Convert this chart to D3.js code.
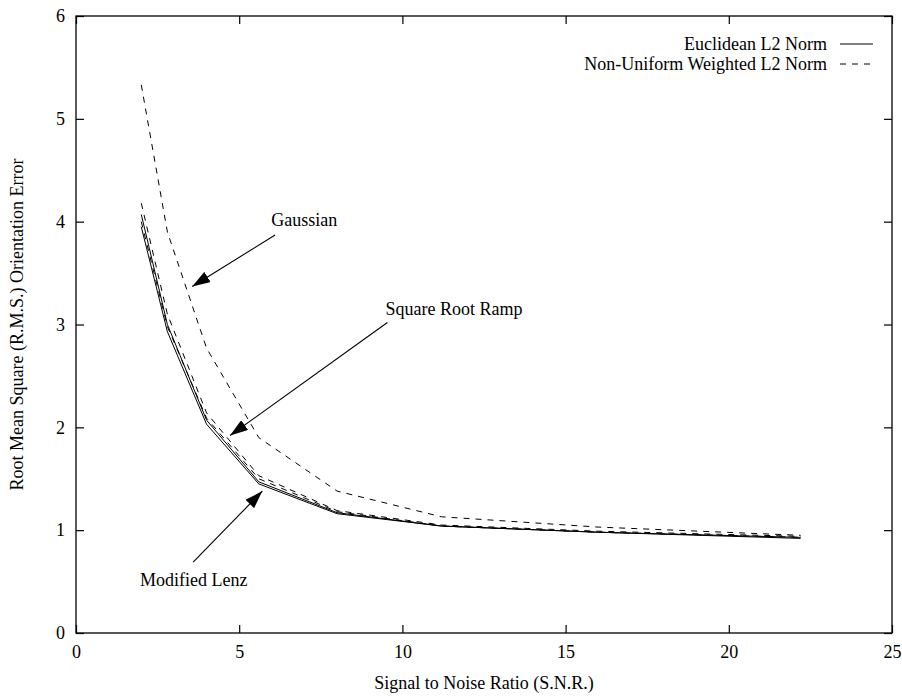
<!DOCTYPE html>
<html>
<head>
<meta charset="utf-8">
<script src="https://cdn.jsdelivr.net/npm/d3@7"></script>
<style>
  body { margin: 0; background: #fff; }
  text { font-family: "Liberation Serif", "Times New Roman", serif; font-size: 18px; fill: #000; }
</style>
</head>
<body>
<svg id="chart-svg"></svg>
<script>
const width = 902
const height = 696
const margin = {left: 76, right: 10, top: 16, bottom: 63}

// signal to noise ratios at which errors were measured
const snr = [2, 2.8, 4, 5.6, 8, 11.2, 16, 22.2]

// rms orientation error per filter / norm
const gaussianWeighted = [5.33, 3.9, 2.77, 1.9, 1.38, 1.13, 1.03, 0.95]
const rampWeighted     = [4.18, 3.1, 2.14, 1.53, 1.19, 1.05, 0.99, 0.94]
const rampEuclid       = [4.07, 3.0, 2.07, 1.47, 1.17, 1.04, 0.98, 0.93]
const lenzWeighted     = [4.0, 2.98, 2.09, 1.5, 1.18, 1.04, 0.98, 0.93]
const lenzEuclid       = [3.95, 2.93, 2.03, 1.45, 1.16, 1.04, 0.98, 0.92]

const series = [
  {name: 'Gaussian', norm: 'weighted', values: gaussianWeighted},
  {name: 'Square Root Ramp', norm: 'weighted', values: rampWeighted},
  {name: 'Modified Lenz', norm: 'weighted', values: lenzWeighted},
  {name: 'Square Root Ramp', norm: 'euclid', values: rampEuclid},
  {name: 'Modified Lenz', norm: 'euclid', values: lenzEuclid}
]

const xTicks = [0, 5, 10, 15, 20, 25]
const yTicks = [0, 1, 2, 3, 4, 5, 6]

const legendItems = [
  {label: 'Euclidean L2 Norm', norm: 'euclid'},
  {label: 'Non-Uniform Weighted L2 Norm', norm: 'weighted'}
]

// labels with arrow tail and arrow tip, in data units
const notes = [
  {label: 'Gaussian', tx: 5.98, ty: 3.96, x1: 6.1, y1: 3.87, x2: 3.56, y2: 3.37},
  {label: 'Square Root Ramp', tx: 9.48, ty: 3.09, x1: 9.54, y1: 3.02, x2: 4.72, y2: 1.92},
  {label: 'Modified Lenz', tx: 1.96, ty: 0.46, x1: 3.59, y1: 0.69, x2: 5.71, y2: 1.38}
]

const dash = '6,6'

const svg = d3.select('svg#chart-svg').attr('width', width).attr('height', height)
svg.append('rect').attr('width', width).attr('height', height).attr('fill', '#fff')

const x = d3.scaleLinear().domain([0, 25]).range([margin.left, width - margin.right])
const y = d3.scaleLinear().domain([0, 6]).range([height - margin.bottom, margin.top])

const x0 = x.range()[0], x1 = x.range()[1]
const y0 = y.range()[0], y1 = y.range()[1]

//tick marks point inward on all four sides
const tickLen = 8
const fmt = d3.format('d')
svg.append('g').attr('transform', `translate(0,${y0})`)
  .call(d3.axisBottom(x).tickValues(xTicks).tickFormat(fmt).tickSizeInner(-tickLen).tickSizeOuter(0).tickPadding(12))
  .call(g => g.select('.domain').remove())
svg.append('g').attr('transform', `translate(0,${y1})`)
  .call(d3.axisTop(x).tickValues(xTicks).tickSizeInner(-tickLen).tickSizeOuter(0).tickFormat(''))
  .call(g => g.select('.domain').remove())
svg.append('g').attr('transform', `translate(${x0},0)`)
  .call(d3.axisLeft(y).tickValues(yTicks).tickFormat(fmt).tickSizeInner(-tickLen).tickSizeOuter(0).tickPadding(11))
  .call(g => g.select('.domain').remove())
svg.append('g').attr('transform', `translate(${x1},0)`)
  .call(d3.axisRight(y).tickValues(yTicks).tickSizeInner(-tickLen).tickSizeOuter(0).tickFormat(''))
  .call(g => g.select('.domain').remove())

svg.selectAll('.tick line').attr('stroke', '#000').attr('stroke-width', 1.2)
svg.selectAll('.tick text').attr('font-family', null).attr('font-size', null).attr('fill', '#000')

svg.append('rect')
  .attr('x', x0).attr('y', y1).attr('width', x1 - x0).attr('height', y0 - y1)
  .attr('fill', 'none').attr('stroke', '#000').attr('stroke-width', 1.3)

//curves
const line = d3.line().x((d, i) => x(snr[i])).y(d => y(d))
svg.append('g').selectAll('path').data(series).enter().append('path')
  .attr('d', d => line(d.values))
  .attr('fill', 'none')
  .attr('stroke', '#000')
  .attr('stroke-width', 1)
  .attr('stroke-dasharray', d => d.norm === 'weighted' ? dash : null)

//legend
const legend = svg.append('g').selectAll('g').data(legendItems).enter().append('g')
  .attr('transform', (d, i) => `translate(0,${44 + i * 20})`)
legend.append('text')
  .attr('x', 827).attr('y', 5.5)
  .attr('text-anchor', 'end')
  .text(d => d.label)
legend.append('line')
  .attr('x1', 840).attr('x2', 873).attr('y1', 0).attr('y2', 0)
  .attr('stroke', '#000').attr('stroke-width', 1)
  .attr('stroke-dasharray', d => d.norm === 'weighted' ? dash : null)

//arrow annotations
svg.append('defs').append('marker')
  .attr('id', 'head')
  .attr('viewBox', '0 0 18 12')
  .attr('refX', 18).attr('refY', 6)
  .attr('markerWidth', 18).attr('markerHeight', 12)
  .attr('markerUnits', 'userSpaceOnUse')
  .attr('orient', 'auto')
  .append('path').attr('d', 'M0,0 L18,6 L0,12 Z').attr('fill', '#000')

const note = svg.append('g').selectAll('g').data(notes).enter().append('g')
note.append('line')
  .attr('x1', d => x(d.x1)).attr('y1', d => y(d.y1))
  .attr('x2', d => x(d.x2)).attr('y2', d => y(d.y2))
  .attr('stroke', '#000').attr('stroke-width', 1.1)
  .attr('marker-end', 'url(#head)')
note.append('text')
  .attr('x', d => x(d.tx)).attr('y', d => y(d.ty))
  .text(d => d.label)

//axis titles
svg.append('text')
  .attr('x', (x0 + x1) / 2).attr('y', 689)
  .attr('text-anchor', 'middle')
  .text('Signal to Noise Ratio (S.N.R.)')
svg.append('text')
  .attr('transform', `translate(23,${(y0 + y1) / 2}) rotate(-90)`)
  .attr('text-anchor', 'middle')
  .text('Root Mean Square (R.M.S.) Orientation Error')
</script>
</body>
</html>
